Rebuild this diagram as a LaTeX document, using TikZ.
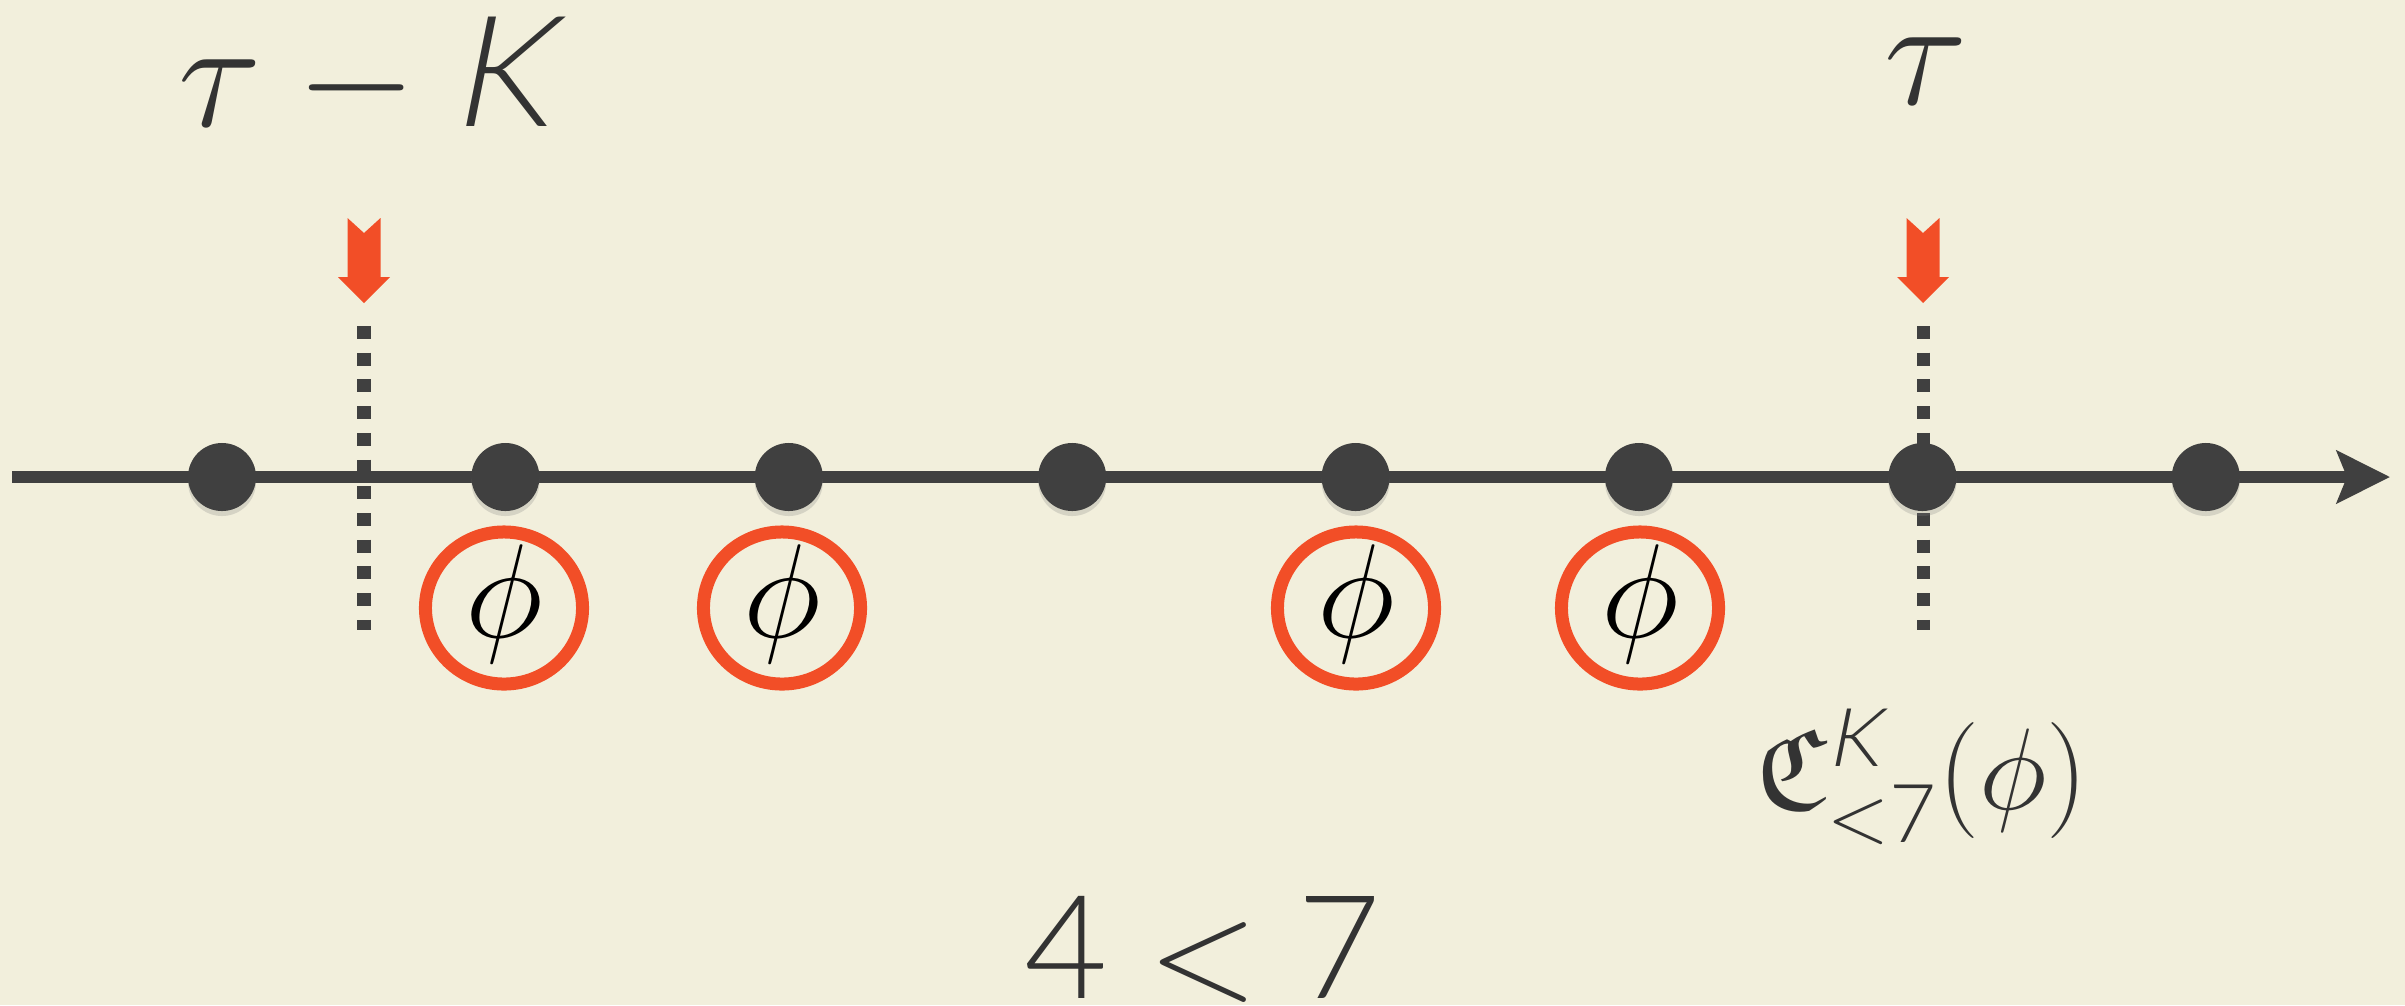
\RequirePackage{fix-cm}
\documentclass[tikz,border=0pt]{standalone}
\usepackage{amsmath,amssymb}
\usepackage{fontspec}
\usepackage{tikz}
\usetikzlibrary{arrows.meta,shapes.geometric,shadows}
% scalable fraktur
\DeclareFontFamily{U}{euf}{}
\DeclareFontShape{U}{euf}{m}{n}{<-> eufm10}{}
\DeclareFontShape{U}{euf}{b}{n}{<-> eufb10}{}
% light sans for letters and digits
\newfontfamily\thinfont{Lato Light}[FakeSlant=0.2]
\newfontfamily\thinupfont{Lato Light}
\newcommand{\tK}{\text{\thinfont K}}
\newcommand{\tn}[1]{\text{\thinupfont #1}}
\definecolor{tlBack}{HTML}{F2EFDC}
\definecolor{tlInk}{HTML}{404040}
\definecolor{tlText}{HTML}{333333}
\definecolor{tlMark}{HTML}{F24E27}
\tikzset{
    % timeline parts
    axis/.style={draw=tlInk,line width=0.12cm,-{Stealth[length=0.53cm,width=0.52cm,inset=0.1cm]}},
    event/.style={circle,fill=tlInk,minimum size=0.68cm,inner sep=0pt,
        drop shadow={opacity=0.25,shadow xshift=0pt,shadow yshift=-0.05cm}},
    cutline/.style={draw=tlInk,line width=0.13cm,dash pattern=on 0.13cm off 0.137cm},
    marker/.style={fill=tlMark},
    % formula labels
    ring/.style={ellipse,draw=tlMark,line width=0.13cm,minimum width=1.57cm,minimum height=1.52cm,inner sep=0pt},
    phi/.style={text=black,inner sep=0pt,font=\fontsize{38}{40}\selectfont},
    bigmath/.style={text=tlText,inner sep=0pt,font=\fontsize{44}{48}\selectfont}
}

\begin{document}
\begin{tikzpicture}[x=0.01cm,y=-0.01cm]

% background and page size
\useasboundingbox (0,0) rectangle (2405,1005);
\fill[tlBack] (0,0) rectangle (2405,1005);

% time axis
\coordinate (axisL) at (12,477);
\coordinate (axisR) at (2390,477);
\draw[axis] (axisL) -- (axisR);

% window borders
\coordinate (cutLtop) at (364,326);
\coordinate (cutLbot) at (364,630);
\coordinate (cutRtop) at (1923,326);
\coordinate (cutRbot) at (1923,630);
\draw[cutline] (cutLtop) -- (cutLbot);
\draw[cutline] (cutRtop) -- (cutRbot);

% events on the line
\foreach \i in {0,...,7}
    \node[event] (e\i) at ({222+283.4*\i},477) {};

% arrows pointing at the window borders
\coordinate (tipL) at (364,303);
\coordinate (tipR) at (1923,303);
\foreach \t in {tipL,tipR}
    \fill[marker] (\t) -- ++(26,-26) -- ++(-9.5,0) -- ++(0,-59) -- ++(-16.5,15)
        -- ++(-16.5,-15) -- ++(0,59) -- ++(-9.5,0) -- cycle;

% labels above the arrows
\node[bigmath,anchor=base] (lblL) at (364,126) {$\tau-\tK$};
\node[bigmath,anchor=base] (lblR) at (1926,104) {$\tau$};

% events where phi holds
\node[ring] (r1) at (504,608) {};
\node[ring] (r2) at (782,608) {};
\node[ring] (r4) at (1356,608) {};
\node[ring] (r5) at (1640,608) {};
\foreach \r in {r1,r2,r4,r5}
    \node[phi] at ([yshift=0.04cm]\r.center) {$\phi$};

% count label
\node[text=tlText,inner sep=0pt,anchor=base,font=\fontsize{33}{36}\selectfont] (count) at (1922,809)
    {$\mathfrak{C}^{\tK}_{<\tn{7}}(\phi)$};
\node[text=tlText,inner sep=0pt,anchor=base,font=\fontsize{41}{44}\selectfont] (ineq) at (1203,998)
    {$\tn{4}<\tn{7}$};

\end{tikzpicture}
\end{document}
